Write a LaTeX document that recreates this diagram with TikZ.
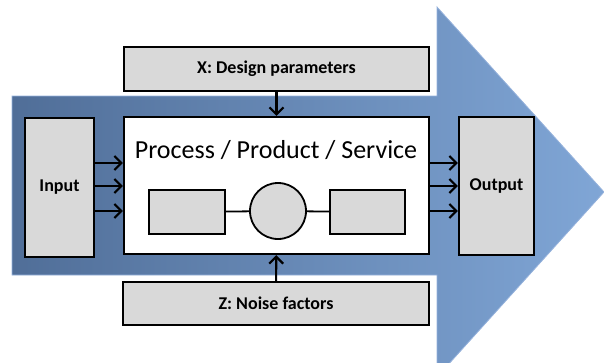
\documentclass[tikz,border=0pt]{standalone}
\usepackage{fontspec}
\setmainfont{Carlito}
\usetikzlibrary{arrows.meta,shapes,positioning,calc}
\definecolor{flowdark}{RGB}{80,110,152}
\definecolor{flowlight}{RGB}{128,166,214}
\definecolor{flowedge}{RGB}{150,178,220}
\definecolor{boxgray}{RGB}{217,217,217}

\begin{document}
\begin{tikzpicture}[x=1pt, y=-1pt,
    box/.style={rectangle, draw, line width=2.2pt, fill=boxgray, inner sep=0pt, font=\fontsize{18}{20}\selectfont\bfseries},
    part/.style={rectangle, draw, line width=1.8pt, fill=boxgray, minimum width=76pt, minimum height=44pt},
    flow/.style={-{Straight Barb[length=7pt, width=14pt]}, line width=2.2pt}
]
\useasboundingbox (0,0) rectangle (604,362);

% Big arrow in the background
\clip (0,0) rectangle (604,362);
\path[draw=flowedge, line width=0.8pt, left color=flowdark, right color=flowlight]
    (12,96) -- (437,96) -- (437,7) -- (604,192) -- (437,377) -- (437,275) -- (12,275) -- cycle;

% Main blocks
\node[box, minimum width=69pt, minimum height=139pt] (input) at (59.5,187.5) {Input};
\node[box, fill=white, minimum width=305pt, minimum height=137pt] (process) at (276.5,185.5) {};
\node[box, minimum width=75pt, minimum height=138pt] (output) at (496.5,186) {Output};
\node[box, minimum width=305pt, minimum height=44pt] (design) at (276.5,69) {X: Design parameters};
\node[box, minimum width=306pt, minimum height=43pt] (noise) at (276,303.5) {Z: Noise factors};

% Inside the process
\node[font=\fontsize{26}{30}\selectfont] (title) at (276,150) {Process / Product / Service};
\node[part] (blockL) at (187,212) {};
\node[circle, draw, line width=1.8pt, fill=boxgray, minimum size=56pt, inner sep=0pt] (circ) at (278,211) {};
\node[part, minimum width=75pt] (blockR) at (367.5,212) {};
\draw[line width=1.8pt] (blockL) -- (circ) -- (blockR);

% Flows in and out
\foreach \y in {163,186,211} {
    \draw[flow] (input.east |- 0,\y) -- (process.west |- 0,\y);
    \draw[flow] (process.east |- 0,\y) -- (output.west |- 0,\y);
}
\draw[flow] (design) -- (process);
\draw[flow] (noise) -- (process);

\end{tikzpicture}
\end{document}
